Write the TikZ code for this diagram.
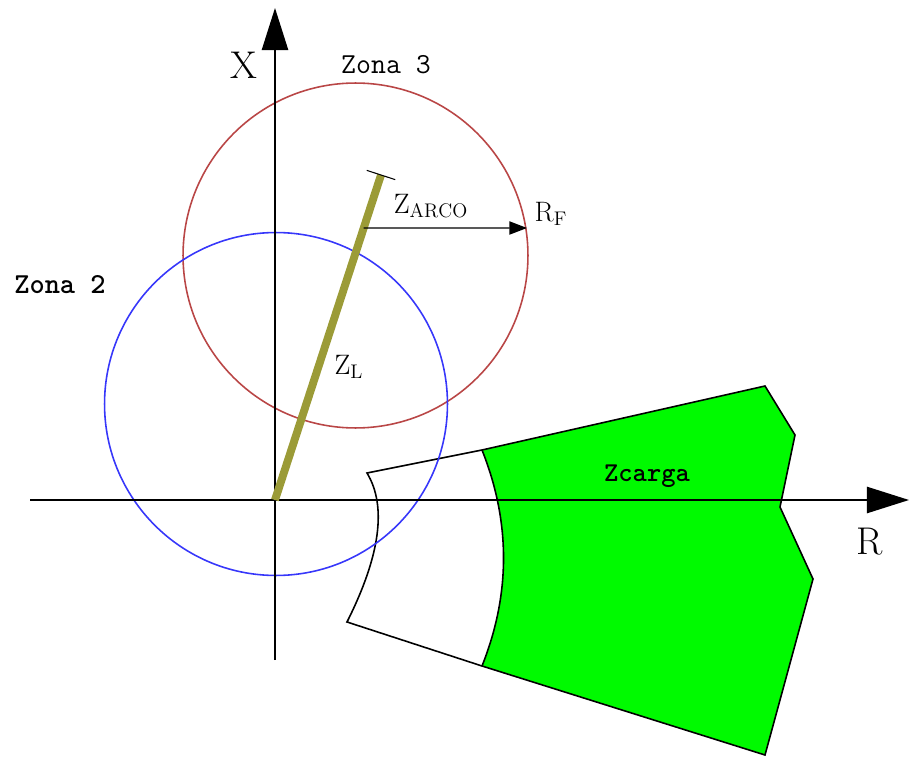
\documentclass[tikz,border=0pt]{standalone}
\usepackage{fontspec}
\usetikzlibrary{arrows.meta, calc}
\definecolor{zonared}{RGB}{185,70,70}
\definecolor{zonablue}{RGB}{55,55,250}
\definecolor{rodolive}{RGB}{155,155,55}
\definecolor{cargagreen}{RGB}{0,250,0}
\tikzset{
  axisline/.style={line width=0.9pt, -{Triangle[length=24pt,width=15pt]}},
  zonecircle/.style={line width=0.9pt},
  zonalabel/.style={font=\ttfamily\fontsize{16.5}{19}\selectfont},
  biglabel/.style={font=\fontsize{22}{26}\selectfont},
  smalllabel/.style={font=\fontsize{16}{19}\selectfont}
}

\begin{document}
\begin{tikzpicture}[x=0.02cm, y=-0.02cm]
        \useasboundingbox (0,0) rectangle (910,757);
        % points
        \coordinate (O) at (275,500);
        \coordinate (xtop) at (275,8); \coordinate (xbot) at (275,660);
        \coordinate (rleft) at (30,500); \coordinate (rtip) at (909,500);
        \coordinate (rodtop) at (381,175);
        \coordinate (arcfoot) at ($(O)!0.837!(rodtop)$);
        \coordinate (rf) at (527,228);
        % load region
        \fill[cargagreen] (482,450) -- (765,386) -- (795,435) -- (780,507) -- (813,579)
          -- (765,755) -- (482,666) .. controls (510.7,594) and (510.7,522) .. (482,450) -- cycle;
        \draw[line width=0.9pt] (367,473) -- (482,450) -- (765,386) -- (795,435) -- (780,507)
          -- (813,579) -- (765,755) -- (482,666) -- (347,622)
          .. controls (380.3,555.7) and (387,506) .. (367,473) -- cycle;
        \draw[line width=0.9pt] (482,450) .. controls (510.7,522) and (510.7,594) .. (482,666);
        % zones
        \draw[zonecircle, zonared] (355.5,255.5) circle[radius=3.45cm];
        \draw[zonecircle, zonablue] (276,404) circle[radius=3.43cm];
        % axes
        \draw[axisline] (xbot) -- (xtop);
        \draw[axisline] (rleft) -- (rtip);
        % line impedance
        \draw[rodolive, line width=4.5pt] (O) -- (rodtop);
        \draw[line width=0.6pt] ($(rodtop)!0.3cm!90:(O)$) -- ($(rodtop)!0.3cm!-90:(O)$);
        \draw[line width=0.7pt, -{Triangle[length=10pt,width=7.5pt]}] (arcfoot) -- (rf);
        % labels
        \node[biglabel] (xlab) at (244,65) {X};
        \node[biglabel] (rlab) at (870,542) {R};
        \node[zonalabel] (zona3) at (386,65) {Zona 3};
        \node[zonalabel, font=\ttfamily\bfseries\fontsize{16.5}{19}\selectfont] (zona2) at (60,285) {Zona 2};
        \node[zonalabel, font=\ttfamily\bfseries\fontsize{15.5}{18}\selectfont] (zcarga) at (647,476) {Zcarga};
        \node[smalllabel] (zarco) at (431,206) {$\mathrm{Z}_{\mathrm{ARCO}}$};
        \node[smalllabel] (rflab) at (551,214) {$\mathrm{R}_{\mathrm{F}}$};
        \node[smalllabel] (zl) at (349,367) {$\mathrm{Z}_{\mathrm{L}}$};
\end{tikzpicture}
\end{document}
